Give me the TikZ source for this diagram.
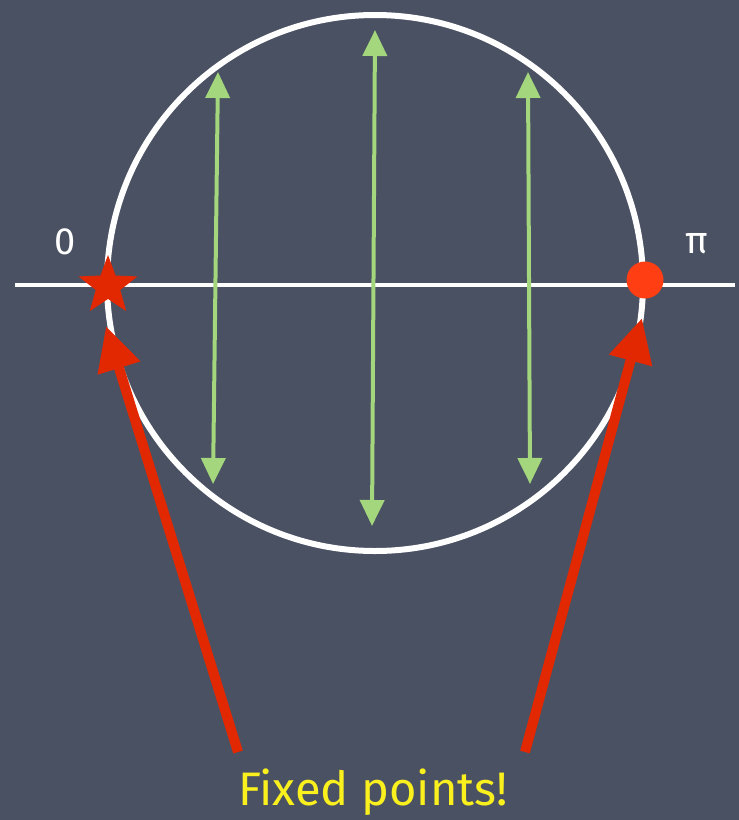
\documentclass[tikz,border=0pt]{standalone}
\usepackage{fontspec}
\setmainfont{Fira Sans}
\usetikzlibrary{arrows.meta,shapes.geometric}
\definecolor{board}{RGB}{74,81,98}
\definecolor{lgreen}{RGB}{163,214,125}
\definecolor{fred}{RGB}{226,40,0}
\definecolor{dotred}{RGB}{255,62,20}
\definecolor{yel}{RGB}{250,240,30}
\tikzset{
  greenarrow/.style={draw=lgreen,line width=4pt,{Triangle[length=26pt,width=24pt]}-{Triangle[length=26pt,width=24pt]}},
  redarrow/.style={draw=fred,line width=10pt,-{Triangle[length=44pt,width=42pt]}},
  lbl/.style={text=white,font=\fontsize{38}{40}\selectfont}
}
\begin{document}
\begin{tikzpicture}[x=1pt,y=-1pt]
\fill[board] (0,0) rectangle (739,820);
\useasboundingbox (0,0) rectangle (739,820);
\node[circle,minimum size=536pt,draw=white,line width=6pt,inner sep=0pt] (c) at (375,283) {};
\coordinate (hl) at (15,285);
\coordinate (hr) at (735,285);
\draw[white,line width=4pt] (hl) -- (hr);
% green arrows
\coordinate (g1t) at (218,72);
\coordinate (g1b) at (213,484);
\coordinate (g2t) at (375,30);
\coordinate (g2b) at (372,526);
\coordinate (g3t) at (528,72);
\coordinate (g3b) at (530,484);
\draw[greenarrow] (g1b) -- (g1t);
\draw[greenarrow] (g2b) -- (g2t);
\draw[greenarrow] (g3b) -- (g3t);
% fixed points
\node[star,star points=5,star point ratio=2.4,fill=fred,minimum size=62pt,inner sep=0pt] (s) at (108,286) {};
\node[circle,fill=dotred,minimum size=37pt,inner sep=0pt] (d) at (645,280) {};
\node[lbl] (l0) at (65,242) {0};
\node[lbl] (lpi) at (697,244) {π};
% red arrows
\coordinate (r1s) at (238,752);
\coordinate (r1e) at (106,326);
\coordinate (r2s) at (525,752);
\coordinate (r2e) at (642,318);
\draw[redarrow] (r1s) -- (r1e);
\draw[redarrow] (r2s) -- (r2e);
\node[text=yel,font=\fontsize{47}{49}\selectfont] (t) at (373,792) {Fixed points!};
\end{tikzpicture}
\end{document}
